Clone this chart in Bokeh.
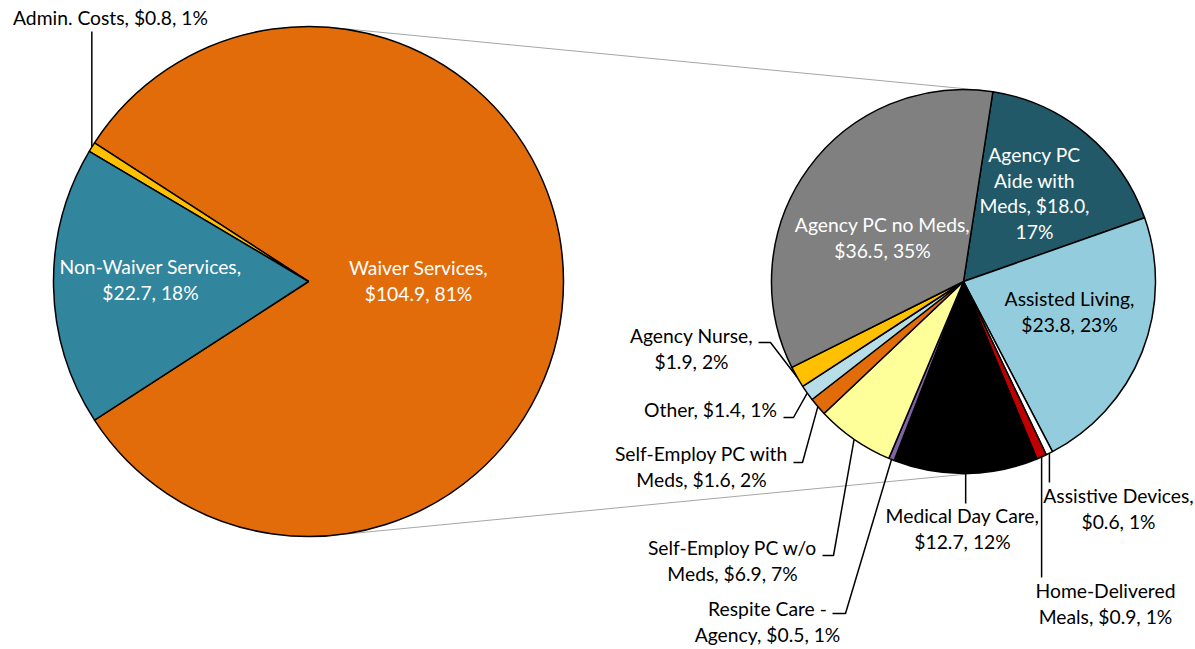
import math
from bokeh.plotting import figure
from bokeh.models import Range1d
from bokeh.core.properties import value
from bokeh.embed import file_html
from bokeh.resources import INLINE

# ---------------- data ----------------
main_names = ["Waiver Services", "Admin. Costs", "Non-Waiver Services"]
main_values = [104.9, 0.8, 22.7]
main_pcts = [81, 1, 18]

sub_names = ["Agency PC Aide with Meds", "Assisted Living", "Assistive Devices",
             "Home-Delivered Meals", "Medical Day Care", "Respite Care - Agency",
             "Self-Employ PC w/o Meds", "Self-Employ PC with Meds", "Other",
             "Agency Nurse", "Agency PC no Meds"]
sub_values = [18.0, 23.8, 0.6, 0.9, 12.7, 0.5, 6.9, 1.6, 1.4, 1.9, 36.5]
sub_pcts = [17, 23, 1, 1, 12, 1, 7, 2, 1, 2, 35]

# ---------------- styles ----------------
main_colors = ["#E36C0A", "#FFC000", "#31859C"]
sub_colors = ["#215968", "#93CDDD", "#FFFFFF", "#C00000", "#000000", "#8064A2",
              "#FFFF99", "#E36C0A", "#B7DEE8", "#FFC000", "#808080"]

# ---------------- layout (screen pixels) ----------------
PAGE_W, PAGE_H = 1195, 649
C1, R1 = (308, 281), 255
C2, R2 = (963, 281), 192
SUB_START_DEG = 81.2
LINE_H = 25.5
TEXT_DY = -8
FONT = "Lato"
FSIZE = "19.3px"

# label: center x, first baseline y, text colour, wrap (break at n-th spaces), leader
label_layout = {
    "Waiver Services": dict(x=418, y=275, color="white", breaks=[2]),
    "Admin. Costs": dict(x=110, y=25, color="black", breaks=[], leader=("v", 31)),
    "Non-Waiver Services": dict(x=150, y=274, color="white", breaks=[2]),
    "Agency PC no Meds": dict(x=882, y=232, color="white", breaks=[4]),
    "Agency PC Aide with Meds": dict(x=1034, y=162, color="white", breaks=[2, 4, 6]),
    "Assisted Living": dict(x=1069, y=306, color="black", breaks=[2]),
    "Assistive Devices": dict(x=1118, y=503, color="black", breaks=[2], leader=("v", 482)),
    "Home-Delivered Meals": dict(x=1105, y=598, color="black", breaks=[1], leader=("v", 577)),
    "Medical Day Care": dict(x=962, y=523, color="black", breaks=[3], leader=("v", 503)),
    "Respite Care - Agency": dict(x=767, y=616, color="black", breaks=[3], leader=("h", 832, 845, 613)),
    "Self-Employ PC w/o Meds": dict(x=732, y=555, color="black", breaks=[3], leader=("h", 822, 833, 555)),
    "Self-Employ PC with Meds": dict(x=701, y=461, color="black", breaks=[3], leader=("h", 793, 802, 462)),
    "Other": dict(x=710, y=417, color="black", breaks=[], leader=("h", 783, 793, 417)),
    "Agency Nurse": dict(x=691, y=343, color="black", breaks=[2], leader=("h", 758, 770, 342)),
}


def Y(sy):
    return PAGE_H - sy


def wrap(text, breaks):
    parts = text.split(" ")
    lines, cur = [], []
    for i, w in enumerate(parts, start=1):
        cur.append(w)
        if i in breaks:
            lines.append(" ".join(cur))
            cur = []
    if cur:
        lines.append(" ".join(cur))
    return lines


p = figure(width=PAGE_W, height=PAGE_H, x_range=Range1d(0, PAGE_W), y_range=Range1d(0, PAGE_H),
           output_backend="svg", toolbar_location=None, min_border=0)
p.axis.visible = False
p.grid.visible = False
p.outline_line_color = None
p.background_fill_color = "white"

# ---- connector lines: external tangents of the two circles ----
d = C2[0] - C1[0]
ux = (R1 - R2) / d
uy = math.sqrt(1 - ux * ux)
for s in (1, -1):
    t1 = (C1[0] + R1 * ux, Y(C1[1]) + s * R1 * uy)
    t2 = (C2[0] + R2 * ux, Y(C2[1]) + s * R2 * uy)
    p.line([t1[0], t2[0]], [t1[1], t2[1]], line_color="#A6A6A6", line_width=1)

# ---- main pie ----
tot = sum(main_values)
a = -math.pi * main_values[0] / tot
main_mid = {}
starts, ends = [], []
for name, v in zip(main_names, main_values):
    b = a + 2 * math.pi * v / tot
    starts.append(a); ends.append(b)
    main_mid[name] = (a + b) / 2
    a = b
p.wedge(x=[C1[0]] * len(starts), y=[Y(C1[1])] * len(starts), radius=R1,
        start_angle=starts, end_angle=ends, fill_color=main_colors,
        line_color="black", line_width=1.5)

# ---- sub pie (clockwise from start) ----
tot2 = sum(sub_values)
a = math.radians(SUB_START_DEG)
sub_mid = {}
starts, ends = [], []
for name, v in zip(sub_names, sub_values):
    b = a - 2 * math.pi * v / tot2
    starts.append(b); ends.append(a)
    sub_mid[name] = (a + b) / 2
    a = b
p.wedge(x=[C2[0]] * len(starts), y=[Y(C2[1])] * len(starts), radius=R2,
        start_angle=starts, end_angle=ends, fill_color=sub_colors,
        line_color="black", line_width=1.5)

# ---- labels and leaders ----
entries = []
for name, v, pc in zip(main_names, main_values, main_pcts):
    entries.append((name, v, pc, C1, R1, main_mid[name]))
for name, v, pc in zip(sub_names, sub_values, sub_pcts):
    entries.append((name, v, pc, C2, R2, sub_mid[name]))

for name, v, pc, c, r, m in entries:
    lay = label_layout[name]
    full = f"{name}, ${v:.1f}, {pc}%"
    lines = wrap(full, lay["breaks"])
    xs = [lay["x"]] * len(lines)
    ys = [Y(lay["y"] + TEXT_DY + i * LINE_H) for i in range(len(lines))]
    p.text(x=xs, y=ys, text=lines, text_font=value(FONT), text_font_size=FSIZE,
           text_align="center", text_baseline="alphabetic", text_color=lay["color"])
    if "leader" in lay:
        px = c[0] + r * math.cos(m)
        py = c[1] - r * math.sin(m)
        ld = lay["leader"]
        if ld[0] == "v":
            p.line([px, px], [Y(py), Y(ld[1])], line_color="black", line_width=1.5)
        else:
            p.line([ld[1], ld[2], px], [Y(ld[3]), Y(ld[3]), Y(py)],
                   line_color="black", line_width=1.5)

open("out.html", "w").write(file_html(p, INLINE))
